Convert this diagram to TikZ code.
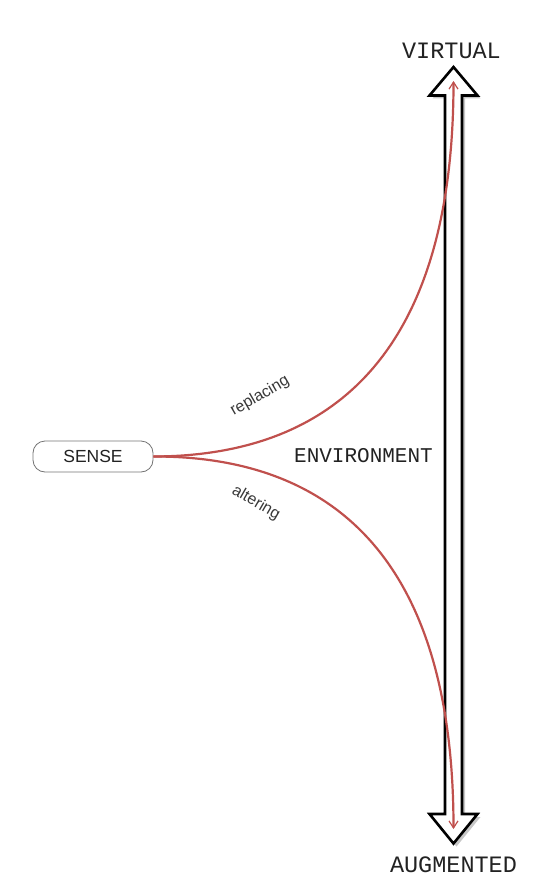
\documentclass[tikz,border=0pt]{standalone}
\usepackage{fontspec}
\setmainfont{Liberation Sans}
\newfontfamily\monof{Liberation Mono}
\usetikzlibrary{arrows.meta}
\definecolor{redline}{HTML}{C0504D}
\definecolor{txt}{HTML}{222222}
\tikzset{
  bigarrow/.style={draw=black, fill=white, line width=2.6pt, line join=miter},
  arrowshadow/.style={fill=black!22, draw=none},
  redcurve/.style={draw=redline, line width=2.2pt, -{Straight Barb[length=7pt,width=9pt,line width=1.2pt]}},
  sensebox/.style={draw=black!55, line width=0.8pt, rounded corners=12pt, minimum width=120pt, minimum height=31pt, inner sep=0pt, text=txt, font=\fontsize{17.5}{20}\selectfont},
  monolabel/.style={text=txt, inner sep=0pt, font=\monof\fontsize{21}{24}\selectfont},
  endlabel/.style={text=txt, inner sep=0pt, font=\monof\fontsize{23.5}{26}\selectfont},
  curvelabel/.style={text=txt!90, inner sep=0pt, font=\fontsize{16}{18}\selectfont}
}
\begin{document}
\begin{tikzpicture}[x=1pt, y=-1pt]
\useasboundingbox (0,0) rectangle (548,893);
% block double arrow: shadow then body
\path[arrowshadow, shift={(3,3)}]
  (453.5,67) -- (477.5,95.5) -- (462,95.5) -- (462,814) -- (477.5,814)
  -- (453.5,843.5) -- (429.5,814) -- (445,814) -- (445,95.5) -- (429.5,95.5) -- cycle;
\path[bigarrow]
  (453.5,67) -- (477.5,95.5) -- (462,95.5) -- (462,814) -- (477.5,814)
  -- (453.5,843.5) -- (429.5,814) -- (445,814) -- (445,95.5) -- (429.5,95.5) -- cycle;
% nodes
\node[sensebox] (sense) at (93,456.5) {SENSE};
\node[monolabel] (env) at (363.5,456) {ENVIRONMENT};
\node[endlabel] (virtual) at (451.5,51) {VIRTUAL};
\node[endlabel] (aug) at (453.5,865) {AUGMENTED};
\coordinate (vtip) at (453.5,81);
\coordinate (atip) at (453.5,829);
% curves
\draw[redcurve] (sense.east) .. controls (360,456) and (453.5,320) .. (vtip);
\draw[redcurve] (sense.east) .. controls (360,456) and (453.5,592) .. (atip);
% labels
\node[curvelabel, rotate=30] (lrep) at (260,396) {replacing};
\node[curvelabel, rotate=-30] (lalt) at (256,503) {altering};
\end{tikzpicture}
\end{document}
